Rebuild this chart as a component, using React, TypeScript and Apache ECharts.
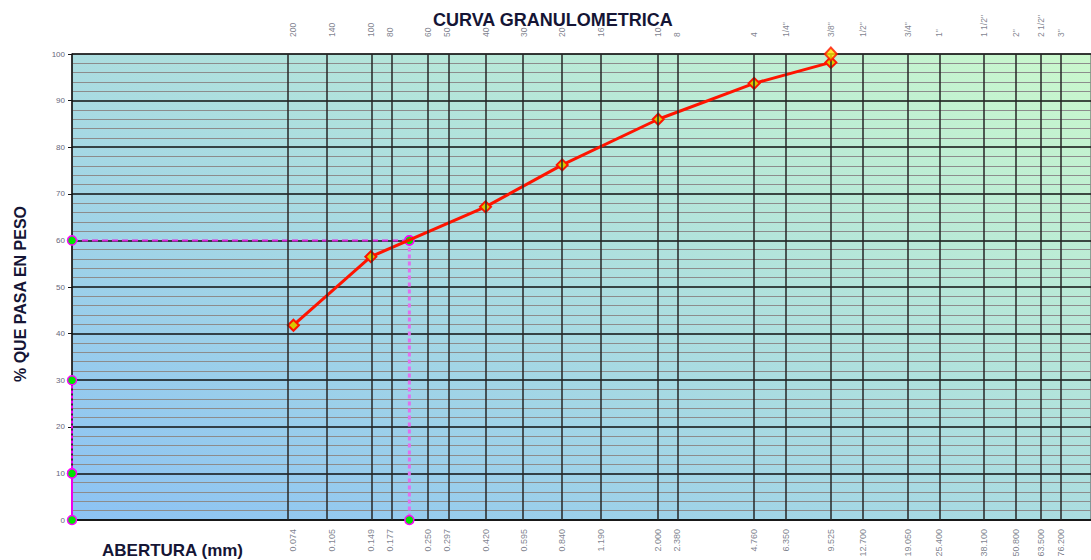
import { useEffect, useRef } from "react";
import * as echarts from "echarts";

// Sieve numbers (top) and their openings in mm (bottom)
const sieveNames = ["200", "140", "100", "80", "60", "50", "40", "30", "20", "16", "10", "8", "4", '1/4"', '3/8"', '1/2"', '3/4"', '1"', '1 1/2"', '2"', '2 1/2"', '3"'];
const sieveOpenings = [0.074, 0.105, 0.149, 0.177, 0.25, 0.297, 0.42, 0.595, 0.84, 1.19, 2.0, 2.38, 4.76, 6.35, 9.525, 12.7, 19.05, 25.4, 38.1, 50.8, 63.5, 76.2];
const openingLabels = ["0.074", "0.105", "0.149", "0.177", "0.250", "0.297", "0.420", "0.595", "0.840", "1.190", "2.000", "2.380", "4.760", "6.350", "9.525", "12.700", "19.050", "25.400", "38.100", "50.800", "63.500", "76.200"];

// Grading curve
const curveOpenings = [0.074, 0.149, 0.42, 0.84, 2.0, 4.76, 9.525];
const curvePassing = [41.8, 56.5, 67.2, 76.2, 86.0, 93.7, 98.2];

// Max size point
const maxOpenings = [9.525];
const maxPassing = [100];

// D60 construction
const d60Opening = 0.211;
const d60HorizX = [0.01, d60Opening];
const d60HorizY = [60, 60];
const d60VertX = [d60Opening, d60Opening];
const d60VertY = [60, 0];

// D10 / D30 (below the axis minimum, drawn on the left edge)
const edgeX = 0.01;
const edgeSolidY = [0, 10];
const edgeDotY = [10, 30];

const xMin = 0.01;
const xMax = 100;

const green = {
  color: "#00e400",
  borderColor: "#ff00ff",
  borderWidth: 1.5,
};

export default function App() {
  const ref = useRef<HTMLDivElement>(null);

  useEffect(() => {
    document.body.style.margin = "0";
    const chart = echarts.init(ref.current!, null, { renderer: "svg" });
    const font = "Liberation Sans, Arial, sans-serif";
    const option: any = {
      animation: false,
      textStyle: { fontFamily: font },
      title: [
        {
          text: "CURVA GRANULOMETRICA",
          left: 428,
          top: 6,
          textStyle: { fontSize: 18, fontWeight: "bold", color: "#151535", fontFamily: font },
        },
        {
          text: "ABERTURA (mm)",
          left: 97,
          top: 537,
          textStyle: { fontSize: 17, fontWeight: "bold", color: "#151535", fontFamily: font },
        },
      ],
      grid: {
        left: 72,
        top: 54,
        right: -2,
        bottom: 40,
        show: true,
        borderColor: "#555",
        borderWidth: 1,
        backgroundColor: new echarts.graphic.LinearGradient(0, 1, 1, 0, [
          { offset: 0, color: "#8cc2f4" },
          { offset: 1, color: "#caf8cc" },
        ]),
      },
      xAxis: {
        type: "log",
        logBase: 10,
        min: xMin,
        max: xMax,
        axisLine: { show: true, onZero: false, lineStyle: { color: "#111", width: 1.5 } },
        axisTick: { show: false },
        axisLabel: { show: false },
        splitLine: { show: false },
      },
      yAxis: {
        type: "value",
        min: 0,
        max: 100,
        interval: 10,
        name: "% QUE PASA EN PESO",
        nameLocation: "middle",
        nameGap: 44,
        nameTextStyle: { fontSize: 16, fontWeight: "bold", color: "#151535", fontFamily: font, padding: [0, 14, 0, 0] },
        axisLine: { show: true, lineStyle: { color: "#111", width: 1.5 } },
        axisTick: { show: true, length: 4, lineStyle: { color: "#111" } },
        axisLabel: { fontSize: 8, color: "#66667a", margin: 7 },
        splitLine: { show: true, lineStyle: { color: "#111", width: 1.5 } },
        minorTick: { show: false, splitNumber: 5 },
        minorSplitLine: { show: true, lineStyle: { color: "#8c8c8c", width: 1.2 } },
      },
      series: [
        {
          type: "line",
          name: "sieves",
          data: [],
          silent: true,
          z: 1,
          markLine: {
            silent: true,
            symbol: "none",
            label: { show: false },
            lineStyle: { color: "#262626", width: 1.5, type: "solid" },
            data: sieveOpenings.map((v) => ({ xAxis: v })),
          },
        },
        {
          type: "scatter",
          name: "bottomLabels",
          symbolSize: 0,
          silent: true,
          clip: false,
          data: sieveOpenings.map((v) => [v, 0]),
          label: {
            show: true,
            position: "bottom",
            distance: 9,
            rotate: 90,
            align: "right",
            verticalAlign: "middle",
            fontSize: 9,
            color: "#5c5f70",
            formatter: (p: any) => openingLabels[p.dataIndex],
          },
        },
        {
          type: "scatter",
          name: "topLabels",
          symbolSize: 0,
          silent: true,
          clip: false,
          data: sieveOpenings.map((v) => [v, 100]),
          label: {
            show: true,
            position: "top",
            distance: 17,
            rotate: 90,
            align: "left",
            verticalAlign: "middle",
            fontSize: 8.5,
            color: "#5c5f70",
            formatter: (p: any) => sieveNames[p.dataIndex],
          },
        },
        {
          type: "line",
          name: "d60h",
          clip: false,
          z: 3,
          data: d60HorizX.map((x, i) => [x, d60HorizY[i]]),
          lineStyle: { color: "#dd22dd", width: 2, type: [6, 4] },
          symbol: "circle",
          symbolSize: 9,
          itemStyle: green,
        },
        {
          type: "line",
          name: "d60v",
          clip: false,
          z: 3,
          data: d60VertX.map((x, i) => [x, d60VertY[i]]),
          lineStyle: { color: "#e070f0", width: 3, type: [4, 3] },
          symbol: "circle",
          symbolSize: 9,
          itemStyle: green,
        },
        {
          type: "line",
          name: "edgeSolid",
          clip: false,
          z: 3,
          data: edgeSolidY.map((y) => [edgeX, y]),
          lineStyle: { color: "#ee00ee", width: 2, type: "solid" },
          symbol: "circle",
          symbolSize: 9,
          itemStyle: green,
        },
        {
          type: "line",
          name: "edgeDot",
          clip: false,
          z: 3,
          data: edgeDotY.map((y) => [edgeX, y]),
          lineStyle: { color: "#ee00ee", width: 2, type: [3, 2] },
          symbol: "circle",
          symbolSize: 9,
          itemStyle: green,
        },
        {
          type: "line",
          name: "curve",
          clip: false,
          z: 4,
          data: curveOpenings.map((x, i) => [x, curvePassing[i]]),
          lineStyle: { color: "#ff1400", width: 3 },
          symbol: "diamond",
          symbolSize: 11,
          itemStyle: { color: "#d8c800", borderColor: "#ff1400", borderWidth: 2 },
        },
        {
          type: "scatter",
          name: "max",
          clip: false,
          z: 5,
          data: maxOpenings.map((x, i) => [x, maxPassing[i]]),
          symbol: "diamond",
          symbolSize: [12, 13],
          itemStyle: { color: "#ffe000", borderColor: "#ff1400", borderWidth: 2 },
        },
      ],
    };
    chart.setOption(option);
    return () => chart.dispose();
  }, []);

  return <div ref={ref} style={{ width: 1091, height: 560 }} />;
}
